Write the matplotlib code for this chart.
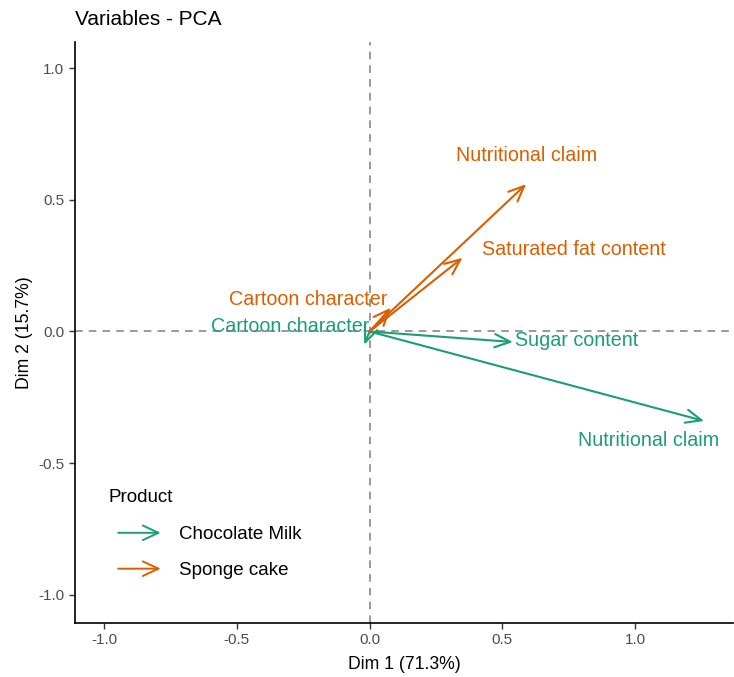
import numpy as np
import matplotlib.pyplot as plt
from matplotlib.patches import FancyArrowPatch
from matplotlib.legend_handler import HandlerBase
from matplotlib.lines import Line2D

plt.rcParams['font.family'] = ['Liberation Sans', 'DejaVu Sans']

# variable coordinates on the first two dimensions
variables = ['Cartoon character', 'Sugar content', 'Nutritional claim',
             'Cartoon character', 'Saturated fat content', 'Nutritional claim']
product = ['Chocolate Milk', 'Chocolate Milk', 'Chocolate Milk',
           'Sponge cake', 'Sponge cake', 'Sponge cake']
dim1 = [-0.02, 0.54, 1.26, 0.08, 0.35, 0.59]
dim2 = [-0.05, -0.04, -0.34, 0.09, 0.28, 0.56]
# label positions after repelling
lab_x = [-0.30, 0.78, 1.05, -0.23, 0.77, 0.59]
lab_y = [0.02, -0.035, -0.415, 0.12, 0.31, 0.67]

colors = {'Chocolate Milk': '#1B9E77', 'Sponge cake': '#D95F02'}


class ArrowHandler(HandlerBase):
    def create_artists(self, legend, orig_handle, xdescent, ydescent,
                       width, height, fontsize, trans):
        y = height / 2 - ydescent
        x0 = -xdescent + 0.13 * width
        arr = FancyArrowPatch((x0, y), (width - xdescent, y),
                              arrowstyle='->,head_length=0.75,head_width=0.35',
                              mutation_scale=15, lw=1.4,
                              color=orig_handle.get_color(), transform=trans)
        return [arr]


fig = plt.figure(figsize=(7.34, 6.77), dpi=100)
ax = fig.add_axes([0.102, 0.080, 0.897, 0.858])

ax.axhline(0, color='#7F7F7F', ls=(0, (5, 4)), lw=1.1, zorder=1)
ax.axvline(0, color='#7F7F7F', ls=(0, (5, 4)), lw=1.1, zorder=1)

for i in range(len(variables)):
    c = colors[product[i]]
    ax.annotate('', xy=(dim1[i], dim2[i]), xytext=(0, 0),
                arrowprops=dict(arrowstyle='->,head_length=0.75,head_width=0.32',
                                color=c, lw=1.5, mutation_scale=15,
                                shrinkA=0, shrinkB=0), zorder=3)
    ax.text(lab_x[i], lab_y[i], variables[i], color=c, fontsize=14.2,
            ha='center', va='center', zorder=4)

ax.set_xlim(-1.11, 1.37)
ax.set_ylim(-1.107, 1.10)
ax.set_xticks([-1.0, -0.5, 0.0, 0.5, 1.0])
ax.set_yticks([-1.0, -0.5, 0.0, 0.5, 1.0])
ax.set_xticklabels(['-1.0', '-0.5', '0.0', '0.5', '1.0'])
ax.set_yticklabels(['-1.0', '-0.5', '0.0', '0.5', '1.0'])
ax.tick_params(colors='#333333', labelcolor='#4D4D4D', labelsize=11,
               length=4, width=1)
for s in ['top', 'right']:
    ax.spines[s].set_visible(False)
for s in ['left', 'bottom']:
    ax.spines[s].set_linewidth(1.2)
ax.set_xlabel('Dim 1 (71.3%)', fontsize=12.7, labelpad=6)
ax.set_ylabel('Dim 2 (15.7%)', fontsize=12.7, labelpad=4)
ax.set_title('Variables - PCA', loc='left', fontsize=15, pad=12, x=0.0)

handles = [Line2D([], [], color=colors[k]) for k in colors]
leg = ax.legend(handles, list(colors), title='Product', handler_map={Line2D: ArrowHandler()},
                loc='lower left', bbox_to_anchor=(0.025, 0.046), frameon=False,
                fontsize=13.5, title_fontsize=13.5, handlelength=2.95,
                handletextpad=0.8, labelspacing=1.0)
leg._legend_box.align = 'left'
leg._legend_box.sep = 1.1 * 13.5

fig.savefig('out.png', dpi=100)
